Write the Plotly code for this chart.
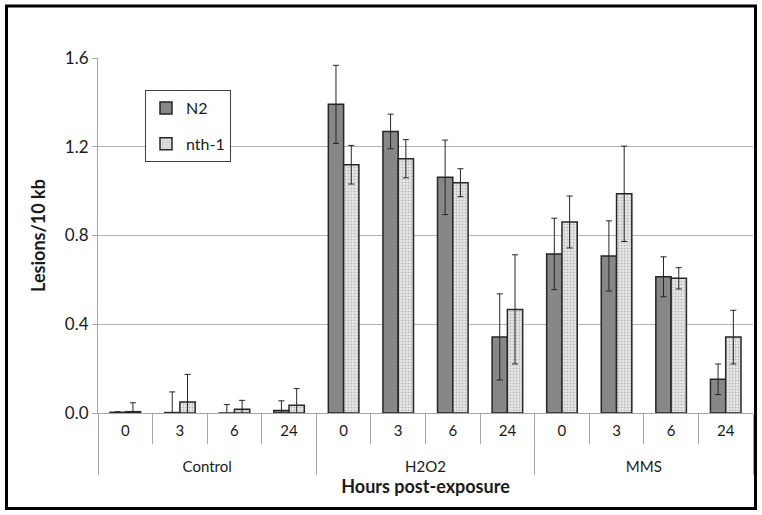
import plotly.graph_objects as go

group_names = ["Control", "H2O2", "MMS"]
hour_labels = ["0", "3", "6", "24"]

n2_values = [0.003, 0.002, -0.002, 0.011, 1.391, 1.269, 1.062, 0.343, 0.717, 0.708, 0.614, 0.152]
n2_errors = [0.003, 0.093, 0.040, 0.044, 0.176, 0.078, 0.168, 0.194, 0.161, 0.158, 0.090, 0.069]
nth1_values = [0.006, 0.050, 0.017, 0.035, 1.119, 1.146, 1.038, 0.467, 0.861, 0.988, 0.607, 0.342]
nth1_errors = [0.040, 0.124, 0.040, 0.075, 0.087, 0.086, 0.063, 0.246, 0.117, 0.215, 0.048, 0.121]

y_ticks = [0.0, 0.4, 0.8, 1.2, 1.6]

# outer label level pushed down one line (as in the original's spacing)
groups = ["<br>" + g for g in group_names for _ in hour_labels]
hours = hour_labels * len(group_names)

FONT = "Lato"
OUT = "#262626"
AX = "#a6a6a6"

fig = go.Figure()
fig.add_trace(go.Bar(
    x=[groups, hours], y=n2_values, name="N2", legendgroup="a",
    marker=dict(color="#878787", line=dict(color=OUT, width=1.5)),
    error_y=dict(type="data", array=n2_errors, color=OUT, thickness=1, width=3),
))
fig.add_trace(go.Bar(
    x=[groups, hours], y=nth1_values, name="nth-1", legendgroup="b",
    marker=dict(color="#e6e6e6", line=dict(color=OUT, width=1.5),
                pattern=dict(shape=".", fgcolor="#8c8c8c", bgcolor="#e8e8e8", size=3, solidity=0.35)),
    error_y=dict(type="data", array=nth1_errors, color=OUT, thickness=1, width=3),
))

L, R, T, B = 98, 9, 58, 102
W, H = 762, 515
pw, ph = W - L - R, H - T - B

fig.update_layout(
    width=W, height=H,
    margin=dict(l=L, r=R, t=T, b=B, pad=0, autoexpand=False),
    paper_bgcolor="white", plot_bgcolor="white",
    barmode="group", bargap=0.44, bargroupgap=0,
    font=dict(family=FONT, size=15, color="#1a1a1a"),
    showlegend=True,
    legend=dict(x=(145 - L) / pw, y=(413 - 90) / ph, xanchor="left", yanchor="top",
                bgcolor="white", bordercolor="#404040", borderwidth=1,
                font=dict(size=16), tracegroupgap=12, itemwidth=30),
    xaxis=dict(
        type="multicategory",
        showline=True, linecolor=AX, linewidth=1,
        ticks="outside", tickson="boundaries", ticklen=30, tickcolor=AX,
        showdividers=True, dividercolor=AX, dividerwidth=1,
        tickfont=dict(size=15), ticklabelstandoff=4,
        title=dict(text="<b>Hours post-exposure</b>", font=dict(size=18), standoff=6),
        showgrid=False,
    ),
    yaxis=dict(
        range=[0, 1.6], tickvals=y_ticks, tickformat=".1f",
        showgrid=True, gridcolor="#b3b3b3", gridwidth=1,
        showline=True, linecolor=AX, linewidth=1,
        ticks="outside", ticklen=5, tickcolor=AX,
        tickfont=dict(size=17),
        title=dict(text="<b>Lesions/10 kb</b>", font=dict(size=18), standoff=14),
        zeroline=False,
    ),
)

# outer chart border
fig.add_shape(type="rect", xref="paper", yref="paper",
              x0=(6.5 - L) / pw, x1=(755.5 - L) / pw,
              y0=-(508.5 - (H - B)) / ph, y1=1 + (T - 6) / ph,
              line=dict(color="black", width=3), fillcolor="rgba(0,0,0,0)", layer="above")

fig.write_html("out.html", config={"displayModeBar": False},
               post_script="document.body.style.margin='0px';")
